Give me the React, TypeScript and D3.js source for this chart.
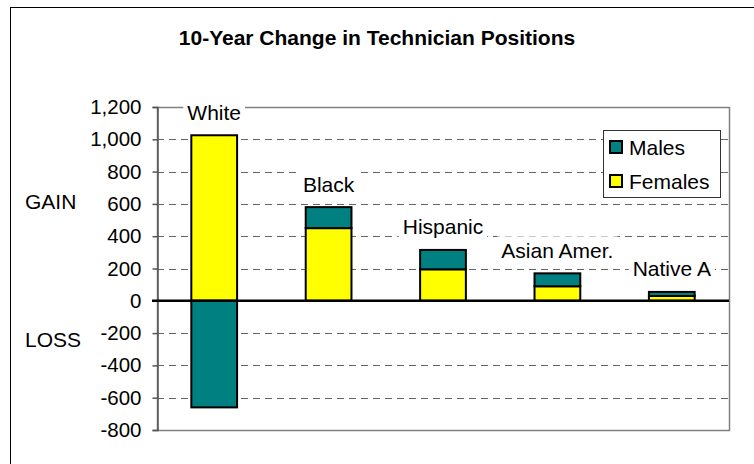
import React, { useEffect, useRef } from "react";
import * as d3 from "d3";

const categories = ["White", "Black", "Hispanic", "Asian Amer.", "Native A"];
const females = [1025, 450, 195, 90, 30];
const males = [-660, 130, 120, 80, 25];
const yTicks = [-800, -600, -400, -200, 0, 200, 400, 600, 800, 1000, 1200];

const TEAL = "#008080";
const YELLOW = "#ffff00";
const FONT = "Arial, 'Liberation Sans', Helvetica, sans-serif";

const App = () => {
  const svgRef = useRef(null);
  const width = 754;
  const height = 464;
  const plot = { left: 157, right: 729, top: 107, bottom: 430 };

  useEffect(() => {
    const svg = d3.select(svgRef.current);
    svg.selectAll("*").remove();

    const x = d3
      .scaleBand()
      .domain(categories)
      .range([plot.left, plot.right])
      .paddingInner(0.6)
      .paddingOuter(0.3);

    const y = d3
      .scaleLinear()
      .domain([-800, 1200])
      .range([plot.bottom, plot.top]);

    const fmt = (d) => d3.format(",")(d).replace("\u2212", "-");

    svg.append("rect").attr("width", width).attr("height", height).attr("fill", "#fff");

    // outer chart border (right/bottom sit outside the picture)
    svg
      .append("rect")
      .attr("x", 10.5)
      .attr("y", 7.5)
      .attr("width", 760)
      .attr("height", 480)
      .attr("fill", "none")
      .attr("stroke", "#000");

    svg
      .append("text")
      .attr("x", 377)
      .attr("y", 45)
      .attr("text-anchor", "middle")
      .attr("font-family", FONT)
      .attr("font-weight", "bold")
      .attr("font-size", 21)
      .text("10-Year Change in Technician Positions");

    // gridlines
    svg
      .append("g")
      .selectAll("line")
      .data(yTicks.filter((t) => t !== 0 && t !== 1200 && t !== -800))
      .join("line")
      .attr("x1", plot.left)
      .attr("x2", plot.right)
      .attr("y1", (d) => Math.round(y(d)) + 0.5)
      .attr("y2", (d) => Math.round(y(d)) + 0.5)
      .attr("stroke", "#666")
      .attr("stroke-dasharray", "7,5");

    // plot area border
    svg
      .append("rect")
      .attr("x", plot.left + 0.5)
      .attr("y", plot.top + 0.5)
      .attr("width", plot.right - plot.left)
      .attr("height", plot.bottom - plot.top)
      .attr("fill", "none")
      .attr("stroke", "#808080")
      .attr("stroke-width", 1.5);

    const yAxis = (g) =>
      g
        .attr("transform", `translate(${plot.left + 0.5},0)`)
        .call(
          d3
            .axisLeft(y)
            .tickValues(yTicks)
            .tickSize(5)
            .tickPadding(11)
            .tickFormat(fmt)
        )
        .call((g) => g.select(".domain").attr("stroke", "#555").attr("stroke-width", 1.5))
        .call((g) => g.selectAll(".tick line").attr("stroke", "#555").attr("stroke-width", 1.5))
        .call((g) =>
          g
            .selectAll(".tick text")
            .attr("font-family", FONT)
            .attr("font-size", 20.5)
            .attr("fill", "#000")
        );

    svg.append("g").attr("class", "y-axis").call(yAxis);

    svg
      .append("g")
      .attr("font-family", FONT)
      .attr("font-size", 21)
      .selectAll("text")
      .data(["GAIN", "LOSS"])
      .join("text")
      .attr("x", 25)
      .attr("y", (d) => (d === "GAIN" ? 209 : 347))
      .text((d) => d);

    const bw = x.bandwidth();
    const bars = svg.append("g").attr("stroke", "#000").attr("stroke-width", 2);

    categories.forEach((c, i) => {
      const f = females[i];
      const m = males[i];
      bars
        .append("rect")
        .attr("x", x(c))
        .attr("width", bw)
        .attr("y", y(f))
        .attr("height", y(0) - y(f))
        .attr("fill", YELLOW);
      const m0 = m >= 0 ? f : 0;
      const m1 = m0 + m;
      bars
        .append("rect")
        .attr("x", x(c))
        .attr("width", bw)
        .attr("y", y(Math.max(m0, m1)))
        .attr("height", Math.abs(y(m0) - y(m1)))
        .attr("fill", TEAL);
    });

    // zero line
    svg
      .append("line")
      .attr("x1", plot.left - 5)
      .attr("x2", plot.right)
      .attr("y1", y(0))
      .attr("y2", y(0))
      .attr("stroke", "#000")
      .attr("stroke-width", 2.5);

    // category labels above the stacks
    const labels = svg.append("g").attr("font-family", FONT).attr("font-size", 21);
    categories.forEach((c, i) => {
      const top = females[i] + Math.max(males[i], 0);
      const cx = x(c) + bw / 2;
      const cy = y(top) - 23;
      const t = labels
        .append("text")
        .attr("x", cx)
        .attr("y", cy + 7.5)
        .attr("text-anchor", "middle")
        .text(c);
      const bb = t.node().getBBox();
      labels
        .insert("rect", "text")
        .attr("x", bb.x - 4)
        .attr("y", cy - 14)
        .attr("width", bb.width + 8)
        .attr("height", 28)
        .attr("fill", "#fff");
    });

    // legend
    const lg = svg.append("g").attr("transform", "translate(603,130)");
    lg.append("rect")
      .attr("x", 0.5)
      .attr("y", 0.5)
      .attr("width", 117)
      .attr("height", 67)
      .attr("fill", "#fff")
      .attr("stroke", "#333");
    [
      ["Males", TEAL],
      ["Females", YELLOW],
    ].forEach(([name, col], i) => {
      const cy = 17 + i * 34;
      lg.append("rect")
        .attr("x", 7)
        .attr("y", cy - 6)
        .attr("width", 12)
        .attr("height", 12)
        .attr("fill", col)
        .attr("stroke", "#000")
        .attr("stroke-width", 2);
      lg.append("text")
        .attr("x", 26)
        .attr("y", cy + 7.5)
        .attr("font-family", FONT)
        .attr("font-size", 21)
        .text(name);
    });
  }, []);

  return (
    <svg
      ref={svgRef}
      width={width}
      height={height}
      style={{ position: "absolute", left: 0, top: 0 }}
    />
  );
};

export default App;
